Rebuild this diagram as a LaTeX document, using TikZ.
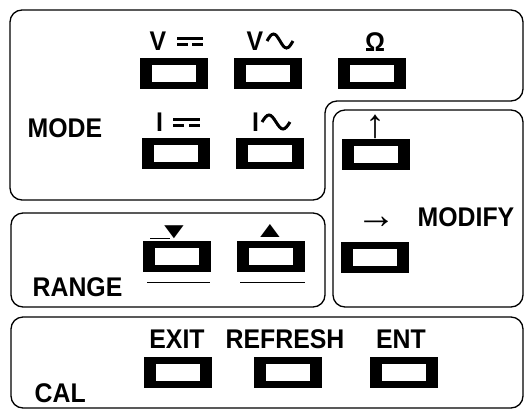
\documentclass[tikz,border=0pt]{standalone}
\usepackage{fontspec}
\setmainfont{Liberation Sans}
\newfontfamily\panelfont[FakeStretch=0.92]{Liberation Sans}
\begin{document}
\begin{tikzpicture}[x=1pt,y=-1pt,line width=1.3pt,
    panel/.style={rounded corners=12pt},
    key/.style={fill=black,minimum width=68pt,minimum height=31pt,inner sep=0pt,
      path picture={\fill[white] ([shift={(12pt,7pt)}]path picture bounding box.south west)
        rectangle ([shift={(-12pt,-7pt)}]path picture bounding box.north east);}},
    lbl/.style={font=\panelfont\bfseries\fontsize{27}{27}\selectfont,inner sep=0pt},
    arr/.style={font=\fontsize{40}{40}\selectfont,inner sep=0pt},
    sym/.style={line width=3pt}]
  \useasboundingbox (0,0) rectangle (526,410);
  % panels
  \draw[panel] (10,10) -- (523,10) -- (523,101) -- (325,101) -- (325,200) -- (10,200) -- cycle;
  \draw[panel] (333,110) rectangle (523,307);
  \draw[panel] (11,213) rectangle (325,307);
  \draw[panel] (11,317) rectangle (523,408);
  % keys
  \foreach \n/\x/\y in {vdc/174/73,vac/268/73,ohm/372/73,idc/176/153,iac/270/153,
      up/376/154,down/177/256,upr/271/256,right/375/257,
      exit/178/372,refresh/288/372,ent/404/372}
    \node[key] (\n) at (\x,\y) {};
  % group labels
  \node[lbl,anchor=west] (mode) at (27,128) {MODE};
  \node[lbl,anchor=west] (range) at (32,287) {RANGE};
  \node[lbl,anchor=west] (cal) at (34,393) {CAL};
  \node[lbl,anchor=west] (modify) at (417,217) {MODIFY};
  % key labels
  \node[lbl] (vdclbl) at (158,41) {V};
  \node[lbl] (vaclbl) at (255,41) {V};
  \node[lbl] (ohmlbl) at (375,42) {Ω};
  \node[lbl] (idclbl) at (159.5,122) {I};
  \node[lbl] (iaclbl) at (255.5,122) {I};
  \node[arr] (uplbl) at (375,127) {↑};
  \node[arr] (rightlbl) at (376,223) {→};
  \node[lbl] (downlbl) at (174,232) {\fontsize{36}{36}\selectfont\scalebox{1}[0.62]{▼}};
  \node[lbl] (uprlbl) at (270,231) {\fontsize{36}{36}\selectfont\scalebox{1}[0.62]{▲}};
  \node[lbl] (exitlbl) at (177,339) {EXIT};
  \node[lbl] (refreshlbl) at (285,339) {REFRESH};
  \node[lbl] (entlbl) at (401,339) {ENT};
  % dc and ac signs
  \draw[sym] (177,38.5) -- (203,38.5) (177,44.5) -- (188,44.5) (192,44.5) -- (203,44.5);
  \draw[sym] (173,119) -- (200,119) (173,125) -- (184,125) (189,125) -- (200,125);
  \draw[sym] (267,41) sin (273.5,34) cos (280,41) sin (286.5,48) cos (293,41);
  \draw[sym] (262,122) sin (269,115) cos (276,122) sin (283,129) cos (290,122);
  % range marks
  \draw[line width=1pt] (150,238) -- (170,238) (147,282) -- (210,282) (240,282) -- (305,282);
\end{tikzpicture}
\end{document}
